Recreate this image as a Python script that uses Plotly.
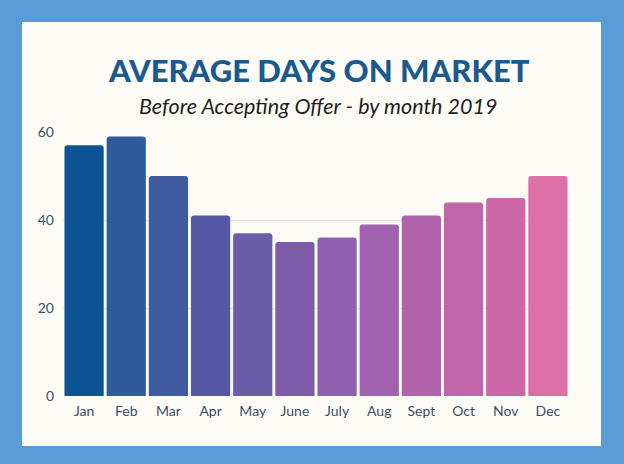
import plotly.graph_objects as go

months = ["Jan", "Feb", "Mar", "Apr", "May", "June", "July", "Aug", "Sept", "Oct", "Nov", "Dec"]
days = [57, 59, 50, 41, 37, 35, 36, 39, 41, 44, 45, 50]
bar_colors = ["#0c5393", "#2e5b9c", "#3f5a9f", "#5557a4", "#6b5ea9", "#7e5ba8",
              "#8e62ae", "#a062ae", "#b063ab", "#c165a9", "#cc68a8", "#dc6fa6"]
y_ticks = [0, 20, 40, 60]

fig = go.Figure(go.Bar(
    x=months, y=days,
    marker=dict(color=bar_colors, line=dict(width=0)),
))

fig.update_layout(
    width=624, height=464,
    paper_bgcolor="#5b9bd6",
    plot_bgcolor="#fdfbf6",
    margin=dict(l=63, r=55, t=132, b=68),
    bargap=0.07,
    barcornerradius=3,
    showlegend=False,
    font=dict(family="Lato, sans-serif", color="#3a4f63", size=14),
    shapes=[dict(type="rect", xref="paper", yref="paper", layer="below",
                 x0=-41 / 506, x1=(601 - 63) / 506, y0=-(446 - 396) / 264, y1=(396 - 22) / 264,
                 fillcolor="#fdfbf6", line=dict(width=0))],
    annotations=[
        dict(text="AVERAGE DAYS ON MARKET", xref="paper", yref="paper",
             x=(319 - 63) / 506, y=(396 - 70) / 264, xanchor="center", yanchor="middle",
             showarrow=False, font=dict(family="Lato, sans-serif", size=31, weight=900, color="#1b5a8e")),
        dict(text="<i>Before Accepting Offer - by month 2019</i>", xref="paper", yref="paper",
             x=(318 - 63) / 506, y=(396 - 106) / 264, xanchor="center", yanchor="middle",
             showarrow=False, font=dict(family="Lato, sans-serif", size=21.5, color="#1e1e1e")),
    ],
)
fig.update_xaxes(showgrid=False, showline=False, ticks="", ticklabelstandoff=5,
                 tickfont=dict(size=14, color="#3a4f63"))
fig.update_yaxes(range=[0, 60], tickvals=y_ticks, showgrid=True, gridcolor="#e4e4e2", gridwidth=1,
                 zeroline=False, showline=False, ticks="", ticklabelstandoff=8,
                 tickfont=dict(size=14, color="#3a4f63"))

fig.write_html("out.html", config={"displayModeBar": False},
               post_script="document.body.style.margin='0';")
